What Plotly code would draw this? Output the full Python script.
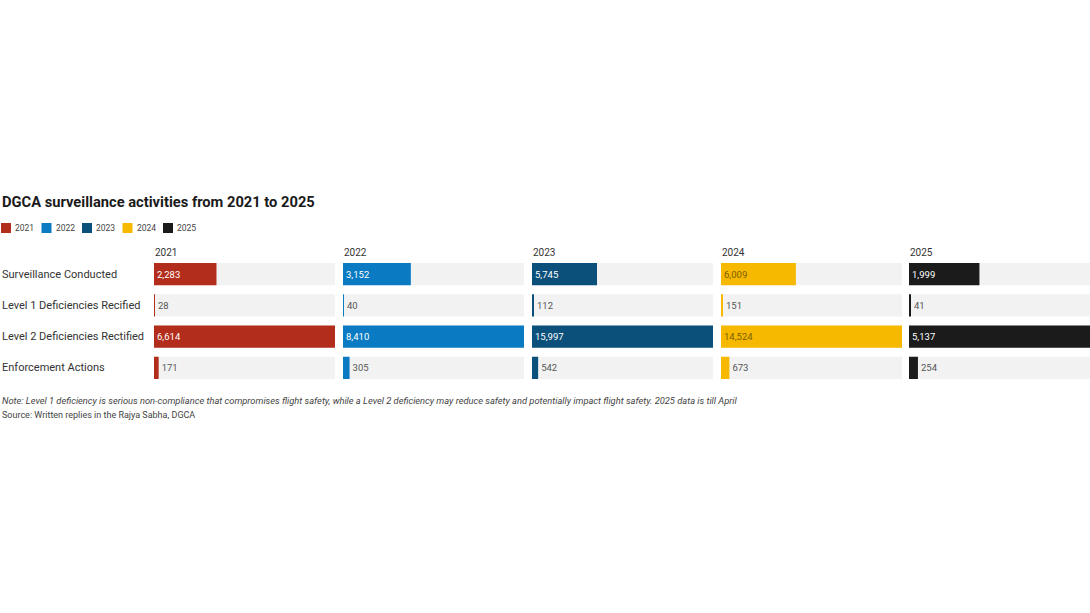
import plotly.graph_objects as go

# --- Data ---
CATEGORIES = ["Surveillance Conducted", "Level 1 Deficiencies Recified",
              "Level 2 Deficiencies Rectified", "Enforcement Actions"]
YEARS = ["2021", "2022", "2023", "2024", "2025"]
VALUES_2021 = [2283, 28, 6614, 171]
VALUES_2022 = [3152, 40, 8410, 305]
VALUES_2023 = [5745, 112, 15997, 542]
VALUES_2024 = [6009, 151, 14524, 673]
VALUES_2025 = [1999, 41, 5137, 254]
ALL_VALUES = [VALUES_2021, VALUES_2022, VALUES_2023, VALUES_2024, VALUES_2025]

COLORS = ["#b22d1b", "#0a7bc2", "#0b4f7b", "#f7b900", "#1b1b1b"]
INSIDE_TEXT = ["#ffffff", "#ffffff", "#ffffff", "#7a5c00", "#ffffff"]

TITLE = "DGCA surveillance activities from 2021 to 2025"
NOTE = ("Note: Level 1 deficiency is serious non-compliance that compromises flight safety, "
        "while a Level 2 deficiency may reduce safety and potentially impact flight safety. "
        "2025 data is till April")
SOURCE = "Source: Written replies in the Rajya Sabha, DGCA"

W, H = 1090, 613
FONT = "Roboto, Noto Sans, sans-serif"

def px_x(v):
    return v / W

def px_y(v):
    return 1 - v / H

fig = go.Figure()

col_left = [154, 343, 532, 721, 909]
col_width = 181
y_top, y_bot = 258.5, 383.5

for i, (year, vals) in enumerate(zip(YEARS, ALL_VALUES)):
    n = "" if i == 0 else str(i + 1)
    xa, ya = "x" + n, "y" + n
    vmax = max(vals)
    # grey background track
    fig.add_trace(go.Bar(
        y=CATEGORIES, x=[vmax] * len(vals), orientation="h",
        marker=dict(color="#f2f2f2", line=dict(width=0)),
        hoverinfo="skip", showlegend=False, xaxis=xa, yaxis=ya,
    ))
    positions = ["inside" if v / vmax > 0.2 else "outside" for v in vals]
    fig.add_trace(go.Bar(
        y=CATEGORIES, x=vals, orientation="h", name=year,
        marker=dict(color=COLORS[i], line=dict(width=0)),
        text=[f"{v:,}" for v in vals], textposition=positions,
        insidetextanchor="start",
        insidetextfont=dict(color=INSIDE_TEXT[i], size=9.5, family=FONT),
        outsidetextfont=dict(color="#555555", size=9.5, family=FONT),
        constraintext="none", cliponaxis=False,
        showlegend=False, xaxis=xa, yaxis=ya,
    ))
    x0 = px_x(col_left[i])
    x1 = min(px_x(col_left[i] + col_width), 1.0)
    fig.layout["xaxis" + n] = dict(domain=[x0, x1], range=[0, vmax], visible=False,
                                   fixedrange=True, anchor="y" + n)
    fig.layout["yaxis" + n] = dict(domain=[px_y(y_bot), px_y(y_top)], visible=False,
                                   categoryorder="array", categoryarray=CATEGORIES[::-1],
                                   anchor="x" + n, fixedrange=True)

    # column header
    fig.add_annotation(x=x0, y=px_y(252), xref="paper", yref="paper", text=year,
                       showarrow=False, xanchor="left", yanchor="middle", xshift=-1,
                       font=dict(size=10, color="#333333", family=FONT))

    # legend swatch + label
    lx = 1 + 40.5 * i
    fig.add_shape(type="rect", xref="paper", yref="paper",
                  x0=px_x(lx), x1=px_x(lx + 10), y0=px_y(233), y1=px_y(223),
                  fillcolor=COLORS[i], line=dict(width=0))
    fig.add_annotation(x=px_x(lx + 12), y=px_y(228), xref="paper", yref="paper",
                       text=year, showarrow=False, xanchor="left", yanchor="middle",
                       font=dict(size=8.5, color="#444444", family=FONT))

# row labels
for cat in CATEGORIES:
    fig.add_annotation(x=0, y=cat, xref="paper", yref="y", text=cat, showarrow=False,
                       xanchor="left", yanchor="middle",
                       font=dict(size=11, color="#333333", family=FONT))

fig.add_annotation(x=0, y=px_y(202), xref="paper", yref="paper", text=f"<b>{TITLE}</b>",
                   showarrow=False, xanchor="left", yanchor="middle",
                   font=dict(size=14.7, color="#1a1a1a", family=FONT))
fig.add_annotation(x=0, y=px_y(400), xref="paper", yref="paper", text=f"<i>{NOTE}</i>",
                   showarrow=False, xanchor="left", yanchor="middle",
                   font=dict(size=9.3, color="#444444", family=FONT))
fig.add_annotation(x=0, y=px_y(415), xref="paper", yref="paper", text=SOURCE,
                   showarrow=False, xanchor="left", yanchor="middle",
                   font=dict(size=9, color="#444444", family=FONT))

fig.update_layout(
    width=W, height=H, barmode="overlay", bargap=0.29,
    margin=dict(l=0, r=0, t=0, b=0),
    paper_bgcolor="white", plot_bgcolor="white",
    showlegend=False, font=dict(family=FONT),
)

# the page's default body margin would push the figure 8px in
fig.write_html("out.html", config={"displayModeBar": False},
               post_script="document.body.style.margin='0';")
